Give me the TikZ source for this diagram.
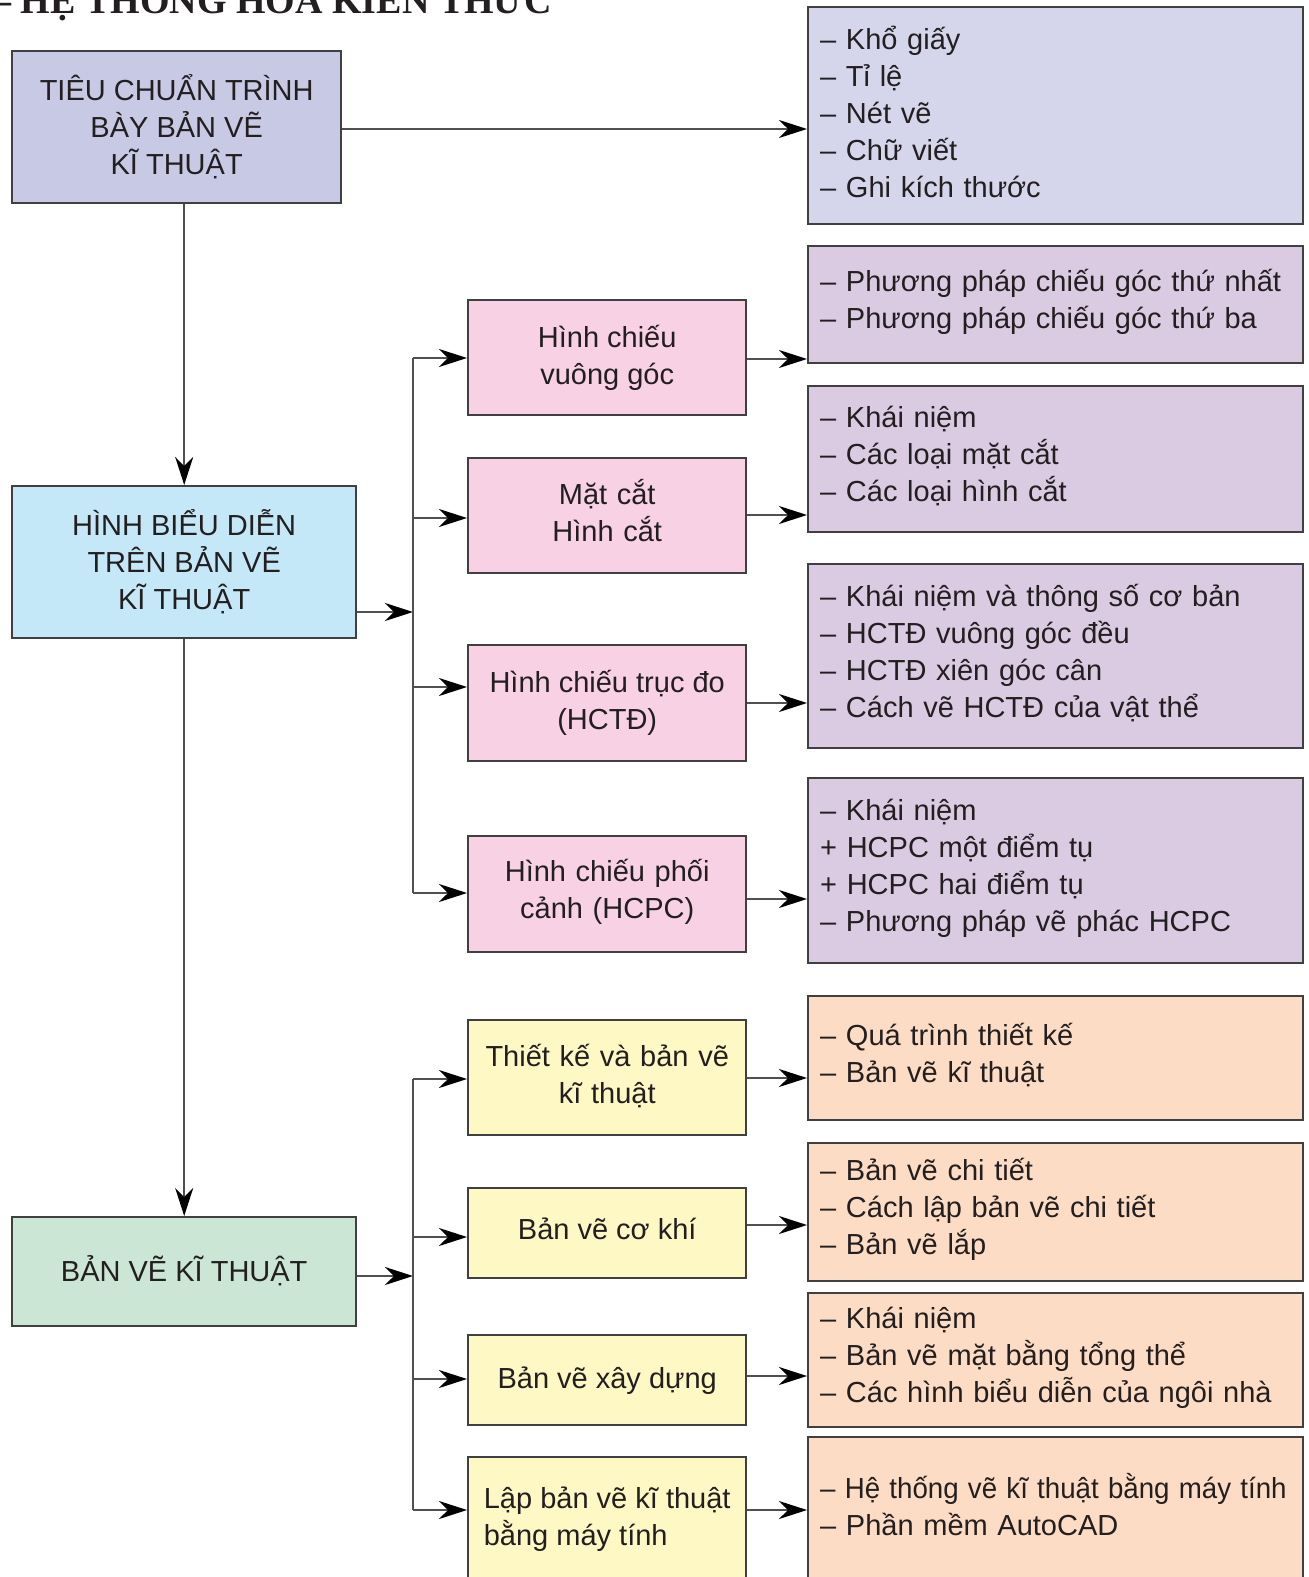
\documentclass[tikz,border=0pt]{standalone}
\usepackage{graphicx}
\usepackage{fontspec}
\setmainfont{Liberation Sans}
\newfontfamily\titlefont{Liberation Serif}
\usetikzlibrary{arrows.meta}

\definecolor{txt}{HTML}{231F20}
\definecolor{boxline}{HTML}{404040}
\definecolor{connline}{HTML}{505050}
\definecolor{tcfill}{HTML}{C7C9E5}
\definecolor{tclist}{HTML}{D5D6EB}
\definecolor{hbfill}{HTML}{C5E8F8}
\definecolor{hcfill}{HTML}{F8D2E4}
\definecolor{hclist}{HTML}{DACAE2}
\definecolor{bvfill}{HTML}{CBE6D4}
\definecolor{ycfill}{HTML}{FEF8C4}
\definecolor{yclist}{HTML}{FCDCC4}

\tikzset{
  box/.style={draw=boxline, line width=1.2pt, inner sep=0pt, anchor=north west,
    align=center, text=txt, font=\fontsize{14.5}{18.5}\selectfont},
  listbox/.style={box, align=left, inner xsep=6pt, text width=235.5pt,
    minimum width=247.5pt, text height=8pt},
  conn/.style={draw=connline, line width=1pt},
  arr/.style={conn, -{Stealth[length=14pt, width=9pt, inset=4.5pt, color=black]}},
}

\begin{document}
\begin{tikzpicture}[x=0.5pt, y=-0.5pt]
\useasboundingbox (0,0) rectangle (1309,1577);

% title, cut by the top edge
\node[anchor=base east, inner sep=0pt, text=txt,
  font=\titlefont\bfseries\fontsize{19}{22}\selectfont] (tieude) at (552,14)
  {– HỆ THỐNG HOÁ KIẾN THỨC};

% left column
\node[box, fill=tcfill, minimum width=164.5pt, minimum height=76pt] (tieuchuan) at (11,50)
  {TIÊU CHUẨN TRÌNH\\BÀY BẢN VẼ\\KĨ THUẬT};
\node[box, fill=hbfill, minimum width=172pt, minimum height=76pt] (hinhbieudien) at (11,485)
  {HÌNH BIỂU DIỄN\\TRÊN BẢN VẼ\\KĨ THUẬT};
\node[box, fill=bvfill, minimum width=172pt, minimum height=54.5pt, text height=12pt] (banve) at (11,1216)
  {BẢN VẼ KĨ THUẬT};

% middle column
\node[box, fill=hcfill, minimum width=139pt, minimum height=57.5pt] (hc1) at (467,299)
  {Hình chiếu\\vuông góc};
\node[box, fill=hcfill, minimum width=139pt, minimum height=57.5pt,
  text width=139pt, text height=7pt] (hc2) at (467,457)
  {Mặt cắt\\Hình cắt};
\node[box, fill=hcfill, minimum width=139pt, minimum height=58pt] (hc3) at (467,644)
  {Hình chiếu trục đo\\(HCTĐ)};
\node[box, fill=hcfill, minimum width=139pt, minimum height=58pt,
  text width=139pt, text height=9pt] (hc4) at (467,835)
  {Hình chiếu phối\\cảnh (HCPC)};
\node[box, fill=ycfill, minimum width=139pt, minimum height=57.5pt,
  text width=139pt, text height=9pt] (bv1) at (467,1019)
  {Thiết kế và bản vẽ\\kĩ thuật};
\node[box, fill=ycfill, minimum width=139pt, minimum height=45pt, text height=6pt] (bv2) at (467,1187)
  {Bản vẽ cơ khí};
\node[box, fill=ycfill, minimum width=139pt, minimum height=45pt] (bv3) at (467,1334)
  {Bản vẽ xây dựng};
\node[box, fill=ycfill, align=left, minimum width=139pt, minimum height=62pt] (bv4) at (467,1456)
  {Lập bản vẽ kĩ thuật\\bằng máy tính};

% right column
\node[listbox, fill=tclist, minimum height=108.5pt] (l1) at (807,6)
  {– Khổ giấy\\– Tỉ lệ\\– Nét vẽ\\– Chữ viết\\– Ghi kích thước};
\node[listbox, fill=hclist, minimum height=58.5pt] (l2) at (807,245)
  {– Phương pháp chiếu góc thứ nhất\\– Phương pháp chiếu góc thứ ba};
\node[listbox, fill=hclist, minimum height=73pt] (l3) at (807,385)
  {– Khái niệm\\– Các loại mặt cắt\\– Các loại hình cắt};
\node[listbox, fill=hclist, minimum height=92pt] (l4) at (807,563)
  {– Khái niệm và thông số cơ bản\\– HCTĐ vuông góc đều\\– HCTĐ xiên góc cân\\– Cách vẽ HCTĐ của vật thể};
\node[listbox, fill=hclist, minimum height=92.5pt] (l5) at (807,777)
  {– Khái niệm\\+ HCPC một điểm tụ\\+ HCPC hai điểm tụ\\– Phương pháp vẽ phác HCPC};
\node[listbox, fill=yclist, minimum height=62pt] (o1) at (807,995)
  {– Quá trình thiết kế\\– Bản vẽ kĩ thuật};
\node[listbox, fill=yclist, minimum height=69pt] (o2) at (807,1142)
  {– Bản vẽ chi tiết\\– Cách lập bản vẽ chi tiết\\– Bản vẽ lắp};
\node[listbox, fill=yclist, minimum height=67pt] (o3) at (807,1292)
  {– Khái niệm\\– Bản vẽ mặt bằng tổng thể\\– Các hình biểu diễn của ngôi nhà};
\node[listbox, fill=yclist, minimum height=72pt] (o4) at (807,1436)
  {\scalebox{0.955}[1]{– Hệ thống vẽ kĩ thuật bằng máy tính}\\– Phần mềm AutoCAD};

% connectors
\coordinate (j1) at (413,612);
\coordinate (j2) at (413,1276);
\draw[arr] (tieuchuan.east |- 0,129) -- (l1.west |- 0,129);
\draw[arr] (tieuchuan.south -| hinhbieudien.north) -- (hinhbieudien.north);
\draw[arr] (hinhbieudien.south) -- (banve.north);
\draw[arr] (hinhbieudien.east |- j1) -- (j1);
\draw[arr] (banve.east |- j2) -- (j2);
\draw[conn] (j1 |- 0,358) -- (j1 |- 0,893);
\draw[conn] (j2 |- 0,1079) -- (j2 |- 0,1510);
\foreach \n/\y in {hc1/358, hc2/518, hc3/687, hc4/893}
  \draw[arr] (j1 |- 0,\y) -- (\n.west |- 0,\y);
\foreach \n/\y in {bv1/1079, bv2/1237, bv3/1379, bv4/1510}
  \draw[arr] (j2 |- 0,\y) -- (\n.west |- 0,\y);
\foreach \n/\m/\y in {hc1/l2/359, hc2/l3/515, hc3/l4/703, hc4/l5/899,
    bv1/o1/1078, bv2/o2/1225, bv3/o3/1376, bv4/o4/1510}
  \draw[arr] (\n.east |- 0,\y) -- (\m.west |- 0,\y);
\end{tikzpicture}
\end{document}
